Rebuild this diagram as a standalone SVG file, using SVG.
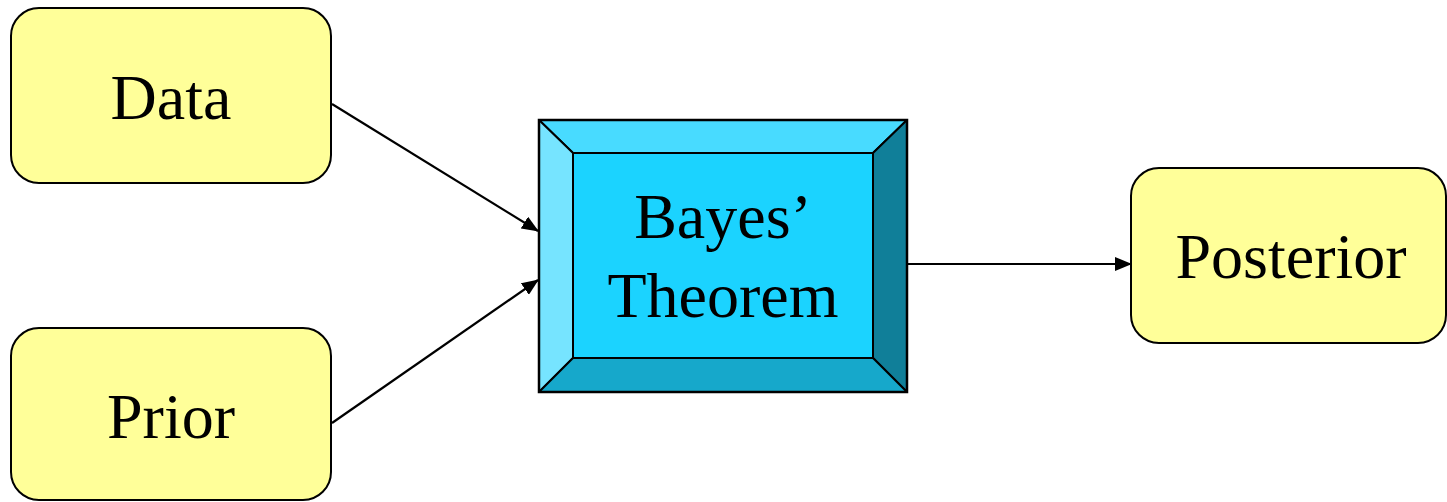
<svg xmlns="http://www.w3.org/2000/svg" width="1447" height="502" viewBox="0 0 1447 502">
<style>
.box{fill:#FFFF99;stroke:#000;stroke-width:2}
.lbl{font-family:"Liberation Serif","Times New Roman",serif;font-size:64px;fill:#000;text-anchor:middle}
.edge{stroke:#000;stroke-width:2.2;fill:none}
.bev{stroke:#000;stroke-width:2;stroke-linejoin:round}
</style>
<defs>
<marker id="arr" markerUnits="userSpaceOnUse" markerWidth="17" markerHeight="14" refX="16" refY="7" orient="auto" viewBox="0 0 17 14">
<path d="M0,0 L17,7 L0,14 z" fill="#000"/>
</marker>
</defs>
<rect width="1447" height="502" fill="#fff"/>
<g id="connectors">
<line class="edge" x1="332" y1="104" x2="538" y2="231" marker-end="url(#arr)"/>
<line class="edge" x1="332" y1="423" x2="538" y2="280" marker-end="url(#arr)"/>
<line class="edge" x1="907" y1="264" x2="1131" y2="264" marker-end="url(#arr)"/>
</g>
<g id="data">
<rect class="box" x="11" y="8" width="320" height="175" rx="28" ry="28"/>
<text class="lbl" x="171" y="119">Data</text>
</g>
<g id="prior">
<rect class="box" x="11" y="328" width="320" height="172" rx="28" ry="28"/>
<text class="lbl" x="171" y="438">Prior</text>
</g>
<g id="bayes">
<polygon class="bev" points="539,120 907,120 873,153 573,153" fill="#48DBFF"/>
<polygon class="bev" points="539,120 573,153 573,358 539,392" fill="#76E4FF"/>
<polygon class="bev" points="907,120 907,392 873,358 873,153" fill="#107F99"/>
<polygon class="bev" points="539,392 573,358 873,358 907,392" fill="#16A8CB"/>
<rect class="bev" x="573" y="153" width="300" height="205" fill="#1BD3FF"/>
<rect x="539" y="120" width="368" height="272" fill="none" stroke="#000" stroke-width="2.5"/>
<text class="lbl" x="723" y="238">Bayes’</text>
<text class="lbl" x="723" y="317">Theorem</text>
</g>
<g id="posterior">
<rect class="box" x="1131" y="168" width="315" height="175" rx="28" ry="28"/>
<text class="lbl" x="1291" y="278">Posterior</text>
</g>
</svg>
